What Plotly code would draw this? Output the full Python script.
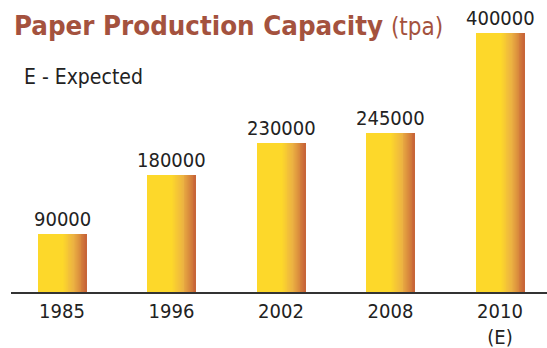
import plotly.graph_objects as go

# Paper production capacity by year (tonnes per annum)
years = ["1985", "1996", "2002", "2008", "2010"]
tick_labels = ["1985", "1996", "2002", "2008", "2010<br>(E)"]
capacity = [90000, 180000, 230000, 245000, 400000]
value_labels = ["90000", "180000", "230000", "245000", "400000"]

FONT = "DejaVu Sans Condensed, DejaVu Sans, sans-serif"
TITLE_COLOR = "#A4523E"
TEXT_COLOR = "#222222"
BAR_W = 0.44

# horizontal gradient stops across each bar (fraction, rgb)
STOPS = [(0.0, (253, 216, 42)), (0.52, (253, 216, 42)),
         (0.75, (236, 178, 66)), (1.0, (200, 102, 56))]


def grad_color(f):
    for (f0, c0), (f1, c1) in zip(STOPS[:-1], STOPS[1:]):
        if f0 <= f <= f1:
            t = 0 if f1 == f0 else (f - f0) / (f1 - f0)
            r, g, b = (round(a + (bb - a) * t) for a, bb in zip(c0, c1))
            return f"rgb({r},{g},{b})"
    return "rgb(%d,%d,%d)" % STOPS[-1][1]


pos = list(range(len(years)))
fig = go.Figure()

# each slice starts further right and runs to the bar's right edge,
# so stacking them in order builds a seamless left-to-right gradient
n_slices = 26
starts = [0.0] + [0.5 + 0.5 * k / n_slices for k in range(n_slices)]
for f in starts:
    fig.add_bar(
        x=pos, y=capacity,
        width=BAR_W * (1 - f),
        offset=-BAR_W / 2 + BAR_W * f,
        marker=dict(color=grad_color(f + 0.5 / n_slices * (f > 0)), line=dict(width=0)),
        hoverinfo="skip", showlegend=False,
    )

# value labels above bars
for x, v, lab in zip(pos, capacity, value_labels):
    fig.add_annotation(x=x, y=v, text=lab, showarrow=False, yanchor="bottom",
                       yshift=1, font=dict(family=FONT, size=20, color=TEXT_COLOR))

fig.add_annotation(
    xref="paper", yref="paper", x=0, y=1, xanchor="left", yanchor="top",
    xshift=1, yshift=-8, showarrow=False,
    text="<b>Paper Production Capacity</b> <span style='font-size:24px'>(tpa)</span>",
    font=dict(family=FONT, size=27.4, color=TITLE_COLOR),
)
fig.add_annotation(
    xref="paper", yref="paper", x=0, y=1, xanchor="left", yanchor="top",
    xshift=11, yshift=-63, showarrow=False, text="E - Expected",
    font=dict(family=FONT, size=21, color=TEXT_COLOR),
)

fig.update_layout(
    width=547, height=348,
    margin=dict(l=11, r=0, t=0, b=56),
    barmode="overlay", bargap=0,
    paper_bgcolor="white", plot_bgcolor="white",
    xaxis=dict(range=[-0.4658, 4.4292], tickmode="array", tickvals=pos,
               ticktext=tick_labels, showline=True, linecolor="#333333",
               linewidth=1.5, ticks="", showgrid=False, zeroline=False,
               tickfont=dict(family=FONT, size=20, color=TEXT_COLOR),
               fixedrange=True),
    yaxis=dict(range=[0, 450965], visible=False, fixedrange=True),
)

fig.write_html("out.html", config={"displayModeBar": False})
